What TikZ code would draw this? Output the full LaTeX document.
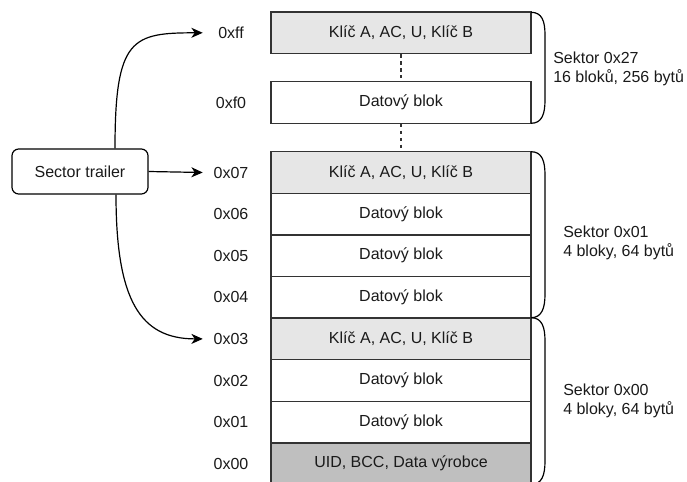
\documentclass[tikz,border=0pt]{standalone}
\usepackage{fontspec}
\setmainfont{Liberation Sans}
\usetikzlibrary{arrows.meta,calc}
\definecolor{keyfill}{HTML}{E6E6E6}
\definecolor{uidfill}{HTML}{BFBFBF}
\definecolor{edge}{HTML}{333333}
\definecolor{txt}{HTML}{1A1A1A}
\tikzset{
  blk/.style={draw=edge, line width=0.9pt, minimum width=195pt, minimum height=31.2pt, inner sep=0pt, text=txt, font=\fontsize{12}{14.4}\selectfont},
  keyblk/.style={blk, fill=keyfill},
  datablk/.style={blk, fill=white},
  uidblk/.style={blk, fill=uidfill},
  addr/.style={minimum width=42pt, inner sep=0pt, text=txt, font=\fontsize{12}{14.4}\selectfont},
  secnote/.style={anchor=west, align=left, inner sep=0pt, text=txt, font=\fontsize{12}{14.4}\selectfont},
  trailer/.style={draw=black, line width=0.9pt, rounded corners=5pt, minimum width=102pt, minimum height=33.75pt, text=txt, font=\fontsize{12}{14.4}\selectfont},
  arr/.style={draw=black, line width=0.9pt, -{Stealth[length=8.5pt,width=7.5pt,inset=2.5pt]}},
  dots/.style={draw=edge, line width=0.9pt, dash pattern=on 2.6pt off 2.6pt},
  bracketline/.style={draw=black, line width=0.9pt}
}
\begin{document}
\begin{tikzpicture}[x=0.75pt,y=-0.75pt]
\useasboundingbox (0,0) rectangle (687,482);
\clip (0,0) rectangle (687,482);
% blocks
\node[keyblk]  (bff) at (401,32.8)  {Klíč A, AC, U, Klíč B};
\node[datablk] (bf0) at (401,102.5) {Datový blok};
\node[keyblk]  (b07) at (401,172.5) {Klíč A, AC, U, Klíč B};
\node[datablk] (b06) at (401,214.1) {Datový blok};
\node[datablk] (b05) at (401,255.7) {Datový blok};
\node[datablk] (b04) at (401,297.3) {Datový blok};
\node[keyblk]  (b03) at (401,338.9) {Klíč A, AC, U, Klíč B};
\node[datablk] (b02) at (401,380.5) {Datový blok};
\node[datablk] (b01) at (401,422.1) {Datový blok};
\node[uidblk]  (b00) at (401,463.7) {UID, BCC, Data výrobce};
% redraw key block border over neighbours
\draw[edge, line width=0.9pt] (b03.north west) -- (b03.north east);
% address labels
\node[addr] (lff) at (231,32.8)  {0xff};
\node[addr] (lf0) at (231,102.5) {0xf0};
\node[addr] (l07) at (231,172.5) {0x07};
\node[addr] (l06) at (231,214.1) {0x06};
\node[addr] (l05) at (231,255.7) {0x05};
\node[addr] (l04) at (231,297.3) {0x04};
\node[addr] (l03) at (231,338.9) {0x03};
\node[addr] (l02) at (231,380.5) {0x02};
\node[addr] (l01) at (231,422.1) {0x01};
\node[addr] (l00) at (231,463.7) {0x00};
% dashed continuation
\draw[dots] (bff.south) -- (bf0.north);
\draw[dots] (bf0.south) -- (b07.north);
% sector trailer
\node[trailer] (st) at (80,171.5) {Sector trailer};
\coordinate (stt) at ($(st.north)+(35,0)$);
\coordinate (stb) at ($(st.south)+(36,0)$);
\draw[arr] (st.east) -- (l07.west);
\draw[arr] (stt) .. controls (115,38) and (132,32.8) .. (lff.west);
\draw[arr] (stb) .. controls (116,300) and (140,338.9) .. (l03.west);
% brackets
\draw[bracketline] (531,12.3) .. controls (542,12.3) and (545,21) .. (545,35) -- (545,100) .. controls (545,114) and (542,123.3) .. (531,123.3);
\draw[bracketline] (531,151.7) .. controls (542,151.7) and (545,161) .. (545,175) -- (545,294) .. controls (545,308) and (542,317.7) .. (531,317.7);
\draw[bracketline] (531,317.7) .. controls (542,317.7) and (545,327) .. (545,341) -- (545,461) .. controls (545,475) and (542,484.5) .. (531,484.5);
% sector notes
\node[secnote] (s27) at (553,69)  {Sektor 0x27\\16 bloků, 256 bytů};
\node[secnote] (s01) at (563,243) {Sektor 0x01\\4 bloky, 64 bytů};
\node[secnote] (s00) at (563,401) {Sektor 0x00\\4 bloky, 64 bytů};
\end{tikzpicture}
\end{document}
